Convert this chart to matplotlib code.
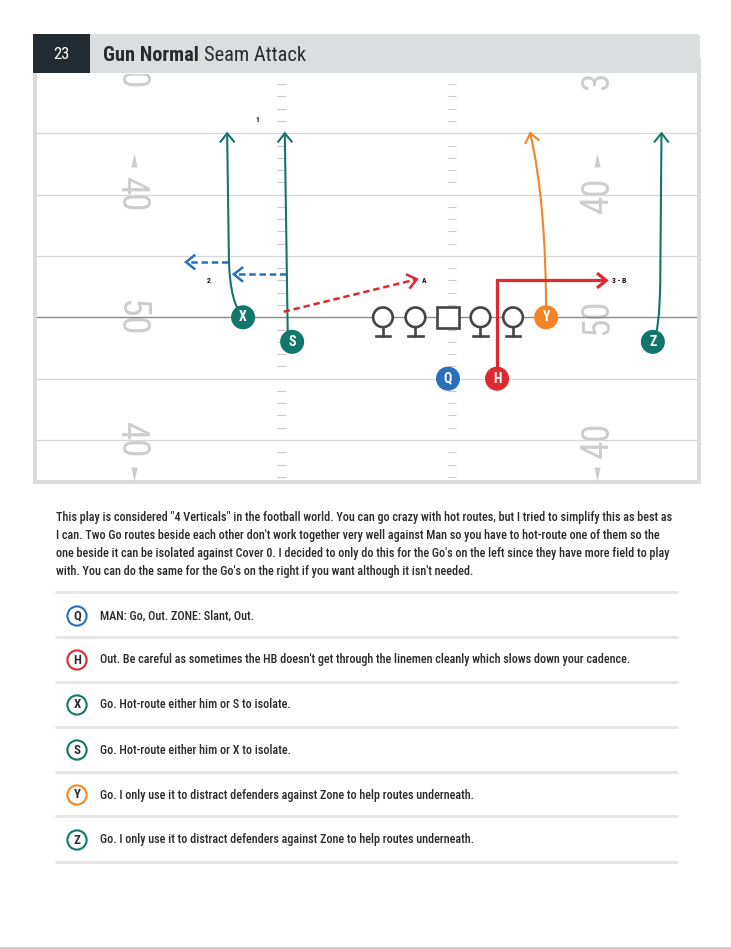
import numpy as np
import matplotlib
matplotlib.use("Agg")
import matplotlib.pyplot as plt
from matplotlib import font_manager as fm
from matplotlib.patches import Circle, Rectangle, FancyBboxPatch, PathPatch
from matplotlib.path import Path

# ---- fonts: pick a condensed family if one is installed ----
installed = {f.name for f in fm.fontManager.ttflist}
COND = next((n for n in ["Roboto Condensed", "Liberation Sans Narrow", "Open Sans Condensed"]
             if n in installed), "DejaVu Sans")
plt.rcParams["font.family"] = [COND, "DejaVu Sans"]

# ---- play data (yards; x from field centre, y from line of scrimmage) ----
play_no = "23"
title_bold = "Gun Normal"
title_rest = "Seam Attack"

players = ["X", "S", "Y", "Z", "Q", "H"]
player_x = [-10.1, -6.1, 14.6, 23.3, 6.6, 10.6]
player_y = [0.0, -2.0, 0.0, -2.0, -5.0, -5.0]

GREEN, BLUE, RED, ORANGE = "#13766a", "#2a6fba", "#dc2a2e", "#f58426"
player_color = [GREEN, GREEN, ORANGE, GREEN, BLUE, RED]

ol_x = [1.3, 3.95, 6.6, 9.25, 11.9]   # middle one is the center (square)

# go routes / out route (control points for smooth curves)
route_X = [(-10.1, 0.0), (-11.15, 1.2), (-11.25, 4.5), (-11.4, 15.0)]
route_S = [(-6.45, -2.0), (-6.7, 15.0)]
route_Y = [(14.6, 0.0), (14.6, 9.5), (13.3, 15.0)]
route_Z = [(23.3, -2.0), (23.85, -1.3), (23.9, 3.0), (24.0, 15.0)]
route_H = [(10.6, -5.0), (10.6, 3.0), (19.5, 3.0)]
# hot routes (dashed)
hot_X = [(-11.3, 4.5), (-14.75, 4.5)]
hot_S = [(-6.6, 3.5), (-10.85, 3.5)]
slant_S = [(-6.8, 0.45), (4.05, 3.1)]

route_labels = ["1", "2", "A", "3 - B"]
label_x = [-8.9, -12.9, 4.45, 19.95]
label_y = [16.1, 3.0, 3.0, 3.0]

# yard numbers
num_text = ["30", "40", "50", "40"]
num_y = [20, 10, 0, -10]
num_x = (-19.25, 18.8)

para_lines = [
    'This play is considered "4 Verticals" in the football world. You can go crazy with hot routes, but I tried to simplify this as best as',
    "I can. Two Go routes beside each other don't work together very well against Man so you have to hot-route one of them so the",
    "one beside it can be isolated against Cover 0. I decided to only do this for the Go's on the left since they have more field to play",
    "with. You can do the same for the Go's on the right if you want although it isn't needed.",
]
note_keys = ["Q", "H", "X", "S", "Y", "Z"]
note_colors = [BLUE, RED, GREEN, GREEN, ORANGE, GREEN]
note_texts = [
    "MAN: Go, Out. ZONE: Slant, Out.",
    "Out. Be careful as sometimes the HB doesn't get through the linemen cleanly which slows down your cadence.",
    "Go. Hot-route either him or S to isolate.",
    "Go. Hot-route either him or X to isolate.",
    "Go. I only use it to distract defenders against Zone to help routes underneath.",
    "Go. I only use it to distract defenders against Zone to help routes underneath.",
]

# ---- page ----
W, H = 731, 949
PX = 0.72  # points per pixel at dpi 100
fig = plt.figure(figsize=(W / 100, H / 100), dpi=100)
page = fig.add_axes([0, 0, 1, 1])
page.set_xlim(0, W)
page.set_ylim(H, 0)
page.axis("off")

# field frame + header
page.add_patch(Rectangle((35, 60), 664, 422, fc="white", ec="#dcdcdc", lw=4 * PX))
page.add_patch(FancyBboxPatch((33, 34), 667, 39, boxstyle="round,pad=0,rounding_size=4",
                              fc="#dcdddf", ec="none"))
page.add_patch(Rectangle((33, 34), 57, 39, fc="#232b32", ec="none"))
page.text(61.5, 54, play_no, color="white", fontsize=12, ha="center", va="center")
t1 = page.text(103, 55, title_bold, color="#2a2a2a", fontsize=17, fontweight="bold",
               ha="left", va="center")
t2 = page.annotate(title_rest, xy=(1, 0.5), xycoords=t1, xytext=(3.5, 0),
                   textcoords="offset points", color="#2a2a2a", fontsize=17,
                   ha="left", va="center")

# ---- field axes ----
PX_YD = 12.27
f_l, f_t, f_r, f_b = 37, 74, 697, 480
los_px, mid_px = 317.3, 367
fld = fig.add_axes([f_l / W, 1 - f_b / H, (f_r - f_l) / W, (f_b - f_t) / H])
fld.set_xlim((f_l - mid_px) / PX_YD, (f_r - mid_px) / PX_YD)
fld.set_ylim((los_px - f_b) / PX_YD, (los_px - f_t) / PX_YD)
fld.axis("off")

y_lo, y_hi = fld.get_ylim()
for yl in range(-10, 20, 5):
    if yl == 0:
        fld.axhline(0, color="#8a8a8a", lw=1.0, zorder=1)
    else:
        fld.axhline(yl, color="#d6d6d6", lw=0.9, zorder=1)
hash_x = [-6.97, 6.93]
ticks = [v for v in range(int(np.floor(y_lo)), int(np.ceil(y_hi)) + 1) if v % 5]
for hx in hash_x:
    fld.hlines(ticks, hx - 0.33, hx + 0.33, color="#c9c9c9", lw=0.8, zorder=1)

# yard numbers drawn digit by digit so only the visible digits are placed
half_adv = 0.72  # half the advance of one digit, yards
up_tri = [(-0.45, -1), (0.45, -1), (0, 1)]
dn_tri = [(-0.45, 1), (0.45, 1), (0, -1)]
for txt, yv in zip(num_text, num_y):
    for side, rot, sgn in zip(num_x, (270, 90), (1, -1)):
        # left side reads top->bottom, right side bottom->top
        for k, ch in enumerate(txt):
            cy = yv + sgn * half_adv * (1 - 2 * k)
            if y_lo < cy < y_hi:
                fld.text(side, cy, ch, rotation=rot, ha="center", va="center",
                         fontsize=27, color="#cdcdcd", clip_on=True, zorder=0)
        if txt == "40":
            ty = yv + 2.8 * np.sign(yv)
            tx = side + (0.3 if side < 0 else -0.05)
            fld.plot(tx, ty, marker=up_tri if yv > 0 else dn_tri, ms=10,
                     color="#cdcdcd", mec="none", zorder=0)


def head(tip, frm, color, lw, L=0.75, hw=0.6):
    d = np.subtract(tip, frm)
    d = d / np.hypot(*d)
    n = np.array([-d[1], d[0]])
    base = np.array(tip) - d * L
    pts = np.array([base + n * hw, tip, base - n * hw])
    fld.plot(pts[:, 0], pts[:, 1], color=color, lw=lw, solid_joinstyle="miter",
             solid_capstyle="butt", zorder=4)


def route(pts, codes, color, lw):
    fld.add_patch(PathPatch(Path(pts, codes), fill=False, ec=color, lw=lw,
                            capstyle="butt", joinstyle="miter", zorder=3))
    head(pts[-1], pts[-2], color, lw)


def dashed(pts, color, lw=1.8):
    xs, ys = zip(*pts)
    fld.plot(xs, ys, color=color, lw=lw, dashes=(2.6, 1.5), zorder=3)
    head(pts[-1], pts[-2], color, lw)


M, C3, L2 = Path.MOVETO, Path.CURVE3, Path.LINETO
route(route_X, [M, C3, C3, L2], GREEN, 1.5)
route(route_S, [M, L2], GREEN, 1.5)
route(route_Y, [M, C3, C3], ORANGE, 1.5)
route(route_Z, [M, C3, C3, L2], GREEN, 1.5)
route(route_H, [M, L2, L2], RED, 2.3)
dashed(hot_X, BLUE)
dashed(hot_S, BLUE)
dashed(slant_S, RED)

for lab, lx, ly in zip(route_labels, label_x, label_y):
    fld.text(lx, ly, lab, fontsize=5.5, fontweight="bold", color="#111111",
             ha="left" if lab in ("A", "3 - B") else "center", va="center", zorder=6)

# linemen
for i, ox in enumerate(ol_x):
    if i == 2:
        fld.add_patch(Rectangle((ox - 0.86, -0.86), 1.72, 1.72, fc="white",
                                ec="#454545", lw=1.9, zorder=5))
    else:
        fld.add_patch(Circle((ox, 0), 0.8, fc="white", ec="#454545", lw=1.9, zorder=5))
        fld.plot([ox, ox], [-0.8, -1.55], color="#454545", lw=1.9, zorder=5)
        fld.plot([ox - 0.6, ox + 0.6], [-1.55, -1.55], color="#454545", lw=1.9, zorder=5)

# skill players
for name, px_, py_, col in zip(players, player_x, player_y, player_color):
    fld.add_patch(Circle((px_, py_), 0.98, fc=col, ec="none", zorder=6))
    fld.text(px_, py_, name, color="white", fontsize=10, fontweight="bold",
             ha="center", va="center", zorder=7)

# ---- description ----
para_y = [517, 535, 553, 571]
para = [page.text(56, yy, s, fontsize=9, color="#2b2b2b", fontweight="medium",
                  ha="left", va="center")
        for s, yy in zip(para_lines, para_y)]

fig.canvas.draw()
rend = fig.canvas.get_renderer()
scale = 617 / para[0].get_window_extent(rend).width
body_size = 9 * scale
for t in para:
    t.set_fontsize(body_size)
tw = t2.get_window_extent(rend).x1 - t1.get_window_extent(rend).x0
tscale = 202 / tw
t1.set_fontsize(17 * tscale)
t2.set_fontsize(17 * tscale)

sep_y = [592, 637, 682, 727, 772, 816, 862]
page.hlines(sep_y, 55, 678, color="#e6e6e6", lw=3 * PX)
row_y = [616, 660, 705, 750, 795, 840]
for key, col, txt, yy in zip(note_keys, note_colors, note_texts, row_y):
    page.add_patch(Circle((77, yy), 9.6, fc="white", ec=col, lw=1.5))
    page.text(77, yy, key, fontsize=body_size + 0.5, fontweight="bold", color="#2b2b2b",
              ha="center", va="center")
    page.text(100, yy, txt, fontsize=body_size, color="#2b2b2b", fontweight="medium",
              ha="left", va="center")

page.plot([0, W], [948, 948], color="#c4c4c4", lw=1.5 * PX)

fig.savefig("out.png", dpi=100, facecolor="white")
